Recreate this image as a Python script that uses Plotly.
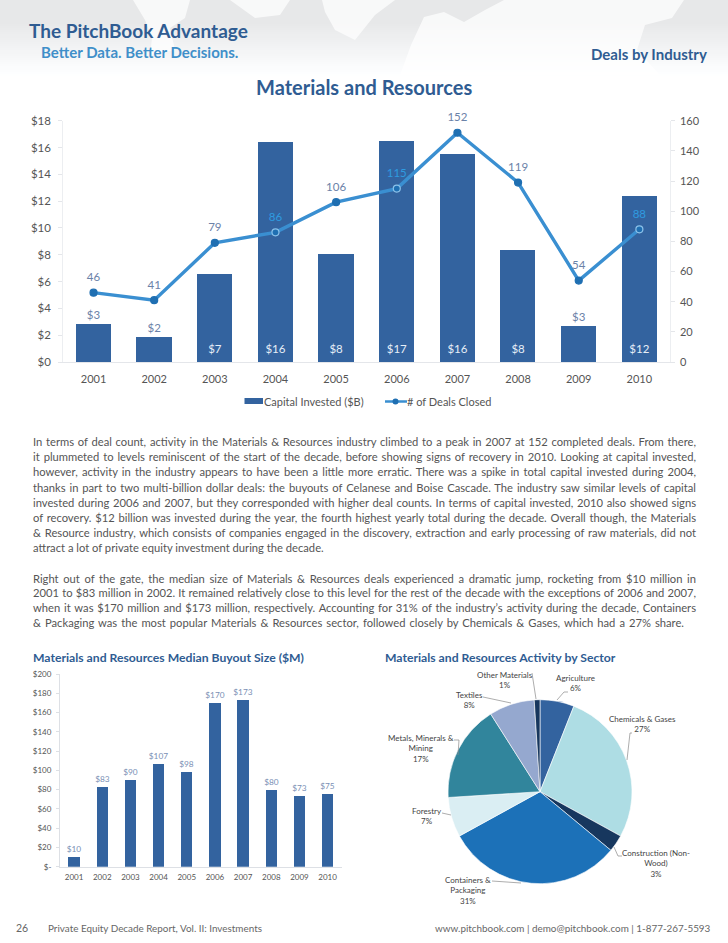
import plotly.graph_objects as go

W, H = 728, 943

years = ["2001", "2002", "2003", "2004", "2005", "2006", "2007", "2008", "2009", "2010"]
capital = [2.83, 1.89, 6.6, 16.45, 8.1, 16.5, 15.57, 8.4, 2.7, 12.4]
capital_labels = ["$3", "$2", "$7", "$16", "$8", "$17", "$16", "$8", "$3", "$12"]
deals = [46, 41, 79, 86, 106, 115, 152, 119, 54, 88]
median = [10, 83, 90, 107, 98, 170, 173, 80, 73, 75]
sectors = ["Agriculture", "Chemicals & Gases", "Construction (Non-Wood)", "Containers & Packaging",
           "Forestry", "Metals, Minerals & Mining", "Textiles", "Other Materials"]
shares = [6, 27, 3, 31, 7, 17, 8, 1]
sector_colors = ["#33639F", "#AEDDE4", "#17375E", "#1C71B8", "#DAEEF3", "#31859C", "#95A8CF", "#17375E"]
left_ticks = [0, 2, 4, 6, 8, 10, 12, 14, 16, 18]
right_ticks = [0, 20, 40, 60, 80, 100, 120, 140, 160]
median_ticks = [0, 20, 40, 60, 80, 100, 120, 140, 160, 180, 200]
median_tick_labels = ["$-", "$20", "$40", "$60", "$80", "$100", "$120", "$140", "$160", "$180", "$200"]

para_lines = [
    "In terms of deal count, activity in the Materials & Resources industry climbed to a peak in 2007 at 152 completed deals. From there,",
    "it plummeted to levels reminiscent of the start of the decade, before showing signs of recovery in 2010. Looking at capital invested,",
    "however, activity in the industry appears to have been a little more erratic. There was a spike in total capital invested during 2004,",
    "thanks in part to two multi-billion dollar deals: the buyouts of Celanese and Boise Cascade. The industry saw similar levels of capital",
    "invested during 2006 and 2007, but they corresponded with higher deal counts. In terms of capital invested, 2010 also showed signs",
    "of recovery. $12 billion was invested during the year, the fourth highest yearly total during the decade. Overall though, the Materials",
    "& Resource industry, which consists of companies engaged in the discovery, extraction and early processing of raw materials, did not",
    "attract a lot of private equity investment during the decade.",
]
para2_lines = [
    "Right out of the gate, the median size of Materials & Resources deals experienced a dramatic jump, rocketing from $10 million in",
    "2001 to $83 million in 2002. It remained relatively close to this level for the rest of the decade with the exceptions of 2006 and 2007,",
    "when it was $170 million and $173 million, respectively. Accounting for 31% of the industry’s activity during the decade, Containers",
    "& Packaging was the most popular Materials & Resources sector, followed closely by Chemicals & Gases, which had a 27% share.",
]

BLUE = "#33639F"
NAVY = "#2F5C92"
FONT = "Lato"


def px(x):
    return x / W


def py(y):
    return 1 - y / H


def text(x, y, s, size, color, anchor="left", family=FONT, bold=False):
    return dict(x=px(x), y=py(y), xref="paper", yref="paper", text=f"<b>{s}</b>" if bold else s,
                showarrow=False, xanchor=anchor, yanchor="middle", align="center" if anchor == "center" else anchor,
                borderpad=0, borderwidth=0, font=dict(size=size, color=color, family=family))


fig = go.Figure()

# main chart
fig.add_trace(go.Bar(x=years, y=capital, marker=dict(color=BLUE, line=dict(width=0)), width=0.58,
                     xaxis="x", yaxis="y", showlegend=False))
ring = [("#8CC2EA" if y in ("2004", "2006", "2010") else "#1F6FB2") for y in years]
fig.add_trace(go.Scatter(x=years, y=deals, mode="lines+markers", xaxis="x", yaxis="y2", showlegend=False,
                         line=dict(color="#3A8FD1", width=3.4), cliponaxis=False,
                         marker=dict(size=7, color="#1F6FB2", line=dict(color=ring, width=1.2))))
inside = [False, False, True, True, True, True, True, True, False, True]
fig.add_trace(go.Scatter(x=years, y=[c if not i else None for c, i in zip(capital, inside)], mode="markers+text",
                         text=capital_labels, textposition="top center", xaxis="x", yaxis="y", showlegend=False,
                         marker=dict(size=2, opacity=0), cliponaxis=False,
                         textfont=dict(size=11.5, color="#6B82A8", family=FONT)))
fig.add_trace(go.Scatter(x=years, y=[0.9 if i else None for i in inside], mode="text",
                         text=capital_labels, textposition="middle center", xaxis="x", yaxis="y", showlegend=False,
                         textfont=dict(size=11.5, color="#E6EEF7", family=FONT)))
deal_colors = ["#2F9BE0" if y in ("2004", "2006", "2010") else "#6B82A8" for y in years]
fig.add_trace(go.Scatter(x=years, y=deals, mode="markers+text", text=[str(d) for d in deals], textposition="top center",
                         xaxis="x", yaxis="y2", showlegend=False, marker=dict(size=12, opacity=0), cliponaxis=False,
                         textfont=dict(size=11.5, color=deal_colors, family=FONT)))

# median chart
fig.add_trace(go.Bar(x=years, y=median, marker=dict(color=BLUE, line=dict(width=0)), width=0.4,
                     xaxis="x3", yaxis="y3", showlegend=False,
                     text=[f"${m}" for m in median], textposition="outside", cliponaxis=False, constraintext="none",
                     textfont=dict(size=8.3, color="#7A90B5", family=FONT)))

# pie
cx, cy, r = 540, 791.7, 92
fig.add_trace(go.Pie(labels=sectors, values=shares, sort=False, direction="clockwise", rotation=0,
                     marker=dict(colors=sector_colors, line=dict(color="#FFFFFF", width=0.6)),
                     textinfo="none", showlegend=False, hole=0,
                     domain=dict(x=[px(cx - r), px(cx + r)], y=[py(cy + r), py(cy - r)])))

fig.update_layout(
    width=W, height=H, margin=dict(l=0, r=0, t=0, b=0, autoexpand=False),
    paper_bgcolor="#FFFFFF", plot_bgcolor="rgba(0,0,0,0)",
    hovermode=False, bargap=0,
    xaxis=dict(domain=[px(63.2), px(669.7)], anchor="y", showgrid=False, showline=True, linecolor="#E4E6EA", linewidth=1,
               ticks="", tickfont=dict(size=11, color="#555555", family=FONT), ticklabelstandoff=7,
               type="category", range=[-0.5, 9.5]),
    yaxis=dict(domain=[py(362), py(120.7)], range=[0, 18], tickvals=left_ticks, ticktext=[f"${t}" for t in left_ticks],
               showgrid=False, showline=True, linecolor="#ECEEF1", ticks="outside", ticklen=4, tickcolor="#E4E6EA",
               ticklabelstandoff=5, tickfont=dict(size=11.5, color="#555555", family=FONT), zeroline=False),
    yaxis2=dict(domain=[py(362), py(120.7)], range=[0, 160], tickvals=right_ticks, overlaying="y", side="right", anchor="x",
                showgrid=False, showline=True, linecolor="#ECEEF1", ticks="outside", ticklen=4, tickcolor="#E4E6EA",
                ticklabelstandoff=3, tickfont=dict(size=11, color="#555555", family=FONT), zeroline=False),
    xaxis3=dict(domain=[px(60), px(341.7)], anchor="y3", showgrid=False, showline=True, linecolor="#DDE0E5", linewidth=1,
                ticks="", ticklabelstandoff=3, tickfont=dict(size=8, color="#555555", family=FONT),
                type="category", range=[-0.5, 9.5]),
    yaxis3=dict(domain=[py(866.7), py(674)], anchor="x3", range=[0, 200], tickvals=median_ticks, ticktext=median_tick_labels,
                showgrid=False, showline=True, linecolor="#DDE0E5", ticks="outside", ticklen=3, tickcolor="#DDE0E5",
                ticklabelstandoff=3, tickfont=dict(size=8, color="#555555", family=FONT), zeroline=False),
)

shapes = []
# header gradient
for i in range(40):
    y0 = i * 2
    t = max(0, (i * 2 - 20) / 55)
    g = min(255, 231 + int(24 * t))
    shapes.append(dict(type="rect", xref="paper", yref="paper", x0=0, x1=1, y0=py(y0 + 2), y1=py(y0), layer="below",
                       line=dict(width=0), fillcolor=f"rgb({g},{min(g+1,255)},{min(g+2,255)})"))
# faint map land in header
for pts in [
    [(133, 0), (190, 0), (185, 18), (170, 28), (175, 50), (150, 55), (152, 38), (145, 20)],
    [(411, 45), (424, 17), (444, 12), (464, 22), (485, 10), (504, 0), (684, 0), (672, 18), (645, 25), (637, 50),
     (660, 75), (400, 75)],
    [(322, 0), (395, 0), (375, 15), (355, 40), (335, 30), (325, 12)],
    [(230, 0), (290, 0), (280, 15), (255, 18)],
]:
    d = "M " + " L ".join(f"{px(a)} {py(b)}" for a, b in pts) + " Z"
    shapes.append(dict(type="path", xref="paper", yref="paper", path=d, layer="below",
                       line=dict(width=0), fillcolor="rgba(255,255,255,0.72)"))
# legend swatches
shapes.append(dict(type="rect", xref="paper", yref="paper", x0=px(244.5), x1=px(263), y0=py(404), y1=py(398),
                   fillcolor=BLUE, line=dict(width=0)))
shapes.append(dict(type="line", xref="paper", yref="paper", x0=px(385), x1=px(407), y0=py(401.5), y1=py(401.5),
                   line=dict(color="#3A8FD1", width=2.5)))
shapes.append(dict(type="circle", xref="paper", yref="paper", x0=px(392.5), x1=px(398.5), y0=py(404.5), y1=py(398.5),
                   fillcolor="#1F6FB2", line=dict(width=0)))
# pie leader lines
for pts in [
    [(532, 673), (536, 699)],
    [(568, 692), (564, 692), (557, 700)],
    [(632, 733), (630, 733), (627, 760)],
    [(622, 856), (618, 856), (614, 847)],
    [(492, 881), (521, 883)],
    [(442, 813), (451, 815)],
    [(454, 740), (459, 740), (458, 755)],
    [(483, 697), (511, 703)],
]:
    d = "M " + " L ".join(f"{px(a)} {py(b)}" for a, b in pts)
    shapes.append(dict(type="path", xref="paper", yref="paper", path=d, line=dict(color="#8A8A8A", width=0.7)))

anns = [
    text(29, 30.5, "The PitchBook Advantage", 19, NAVY, bold=True),
    text(41, 52, "Better Data. Better Decisions.", 15, "#3F8FC9", bold=True),
    text(707, 53.5, "Deals by Industry", 15, NAVY, "right", bold=True),
    text(364, 87, "Materials and Resources", 20, NAVY, "center", bold=True),
    text(264, 401.5, "Capital Invested ($B)", 11, "#555555"),
    text(407, 401.5, "# of Deals Closed", 11, "#555555"),
    text(33, 657, "Materials and Resources Median Buyout Size ($M)", 12.2, NAVY, bold=True),
    text(385, 657, "Materials and Resources Activity by Sector", 12.2, NAVY, bold=True),
    text(16, 928, "26", 10.5, "#666666"),
    text(48, 928, "Private Equity Decade Report, Vol. II: Investments", 9.9, "#666666"),
    text(711, 928, "www.pitchbook.com | demo@pitchbook.com | 1-877-267-5593", 9.9, "#666666", "right"),
]
for i, ln in enumerate(para_lines):
    anns.append(text(33, 441.5 + i * 15.2, ln, 11.2, "#555555"))
for i, ln in enumerate(para2_lines):
    anns.append(text(33, 578 + i * 14.8, ln, 11.2, "#555555"))
for x, y, s in [
    (505, 680, "Other Materials<br>1%"),
    (575, 683, "Agriculture<br>6%"),
    (642, 724, "Chemicals &amp; Gases<br>27%"),
    (656, 863, "Construction (Non-<br>Wood)<br>3%"),
    (468, 890, "Containers &amp;<br>Packaging<br>31%"),
    (427, 816, "Forestry<br>7%"),
    (421, 748, "Metals, Minerals &amp;<br>Mining<br>17%"),
    (469, 700, "Textiles<br>8%"),
]:
    anns.append(text(x, y, s, 8, "#444444", "center"))
fig.update_layout(shapes=shapes, annotations=anns)

# justify long body lines to the right margin, as in the reference
post = """
document.body.style.margin='0';
document.querySelectorAll('.annotation-text').forEach(function(t){
  var s=t.textContent; if(s.length<100) return;
  var target=s.indexOf('& Packaging was')===0?651:663;
  var n=(s.match(/ /g)||[]).length;
  t.style.wordSpacing=((target-t.getComputedTextLength())/n)+'px';
});
"""
fig.write_html("out.html", post_script=post, config=dict(displayModeBar=False))
